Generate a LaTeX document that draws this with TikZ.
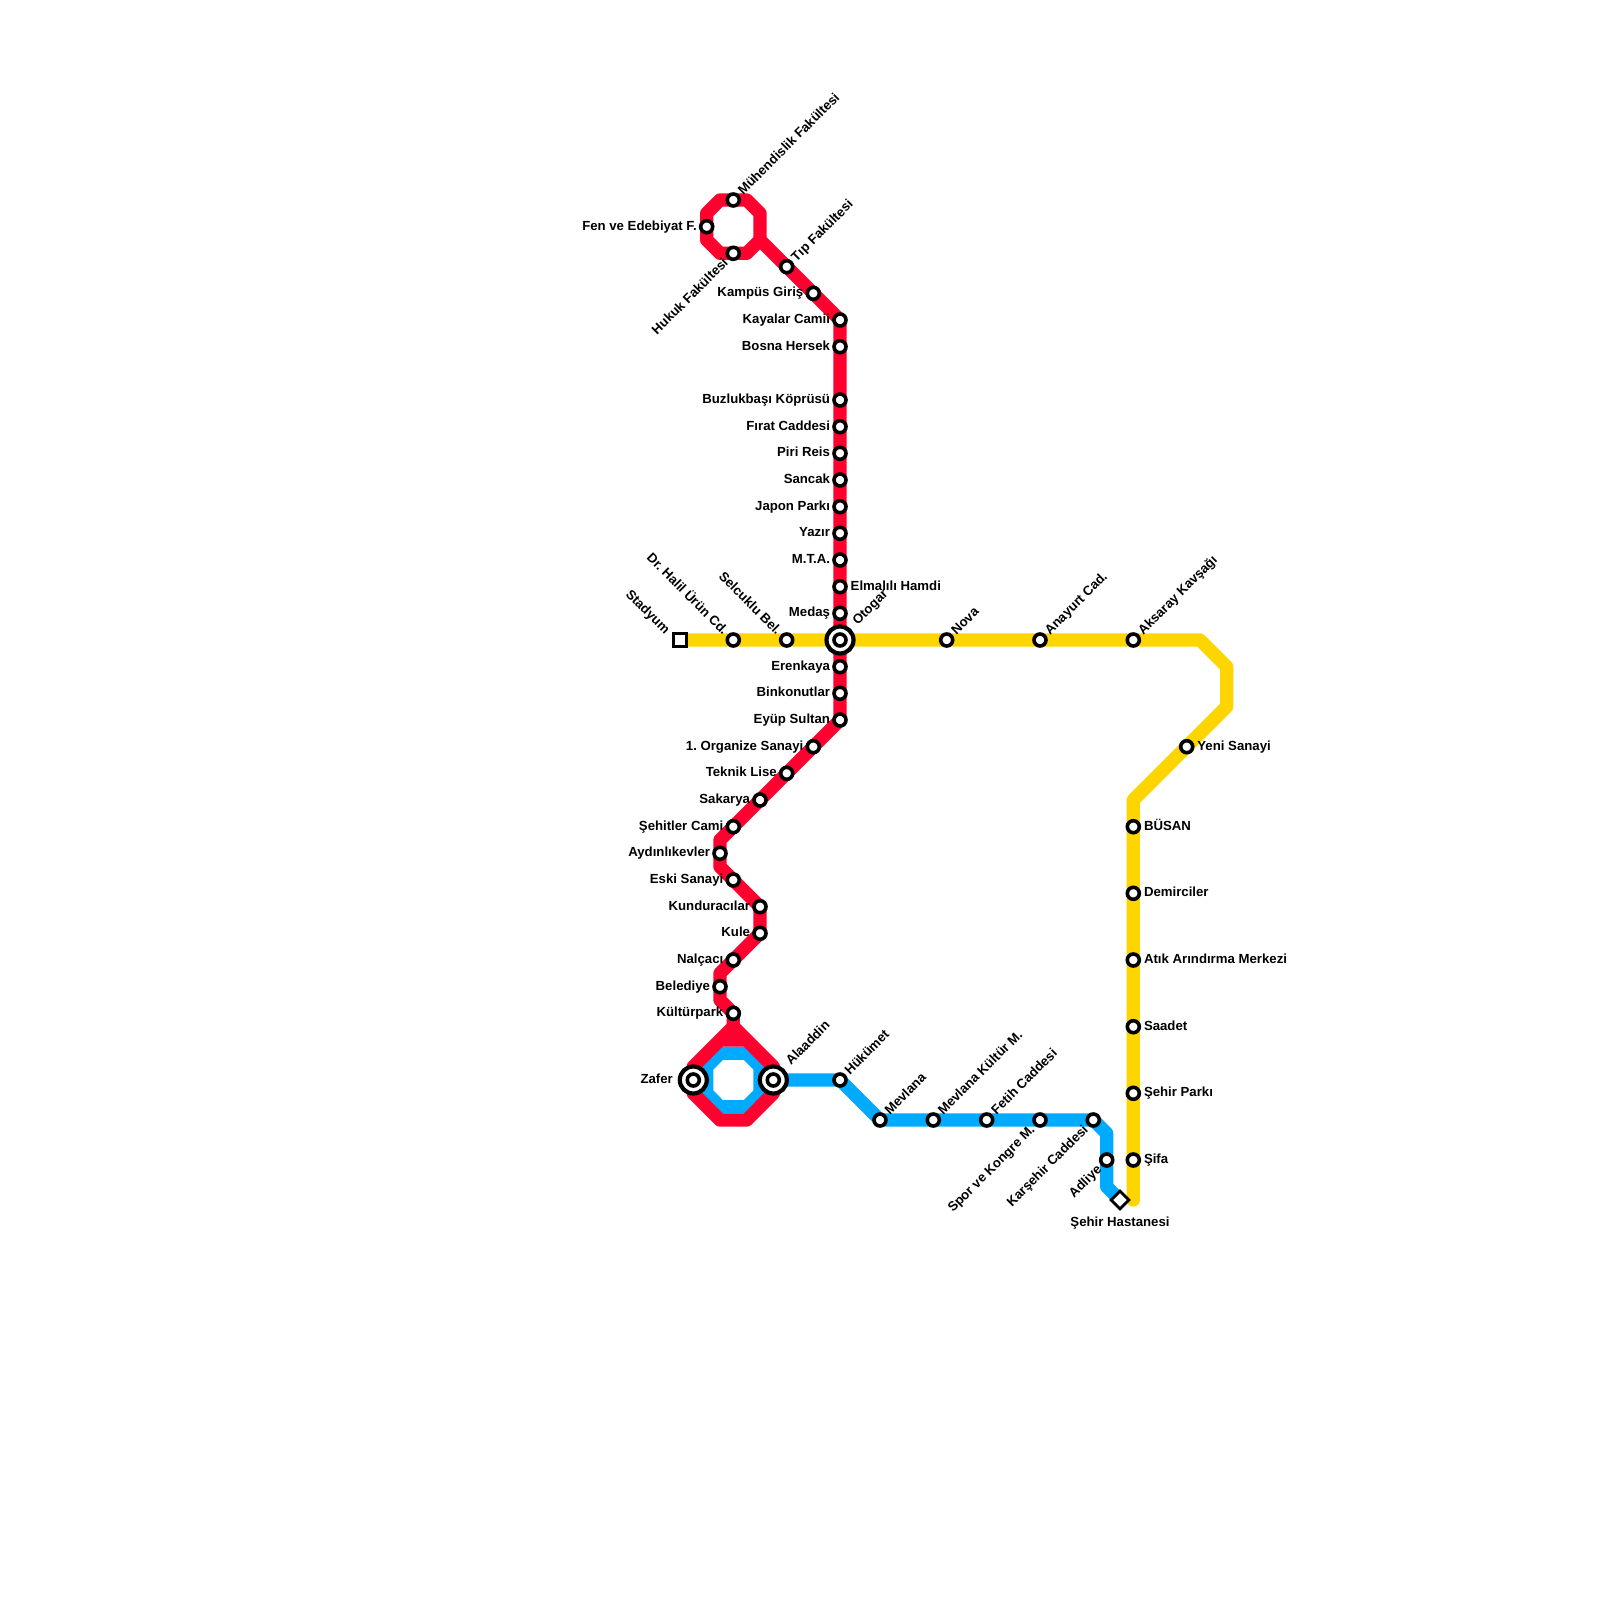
\documentclass[tikz,border=0pt]{standalone}
\usepackage{fontspec}
\setmainfont{Liberation Sans}
\usetikzlibrary{backgrounds,shapes.geometric}
\definecolor{redline}{HTML}{FF002F}
\definecolor{blueline}{HTML}{00AAFF}
\definecolor{yellowline}{HTML}{FFD500}
\tikzset{
  stn/.style={circle,draw=black,fill=white,line width=3.6pt,minimum size=12pt,inner sep=0pt,outer sep=0pt},
  hubouter/.style={circle,draw=black,fill=white,line width=4.2pt,minimum size=27pt,inner sep=0pt,outer sep=0pt},
  sqstn/.style={rectangle,draw=black,fill=white,line width=2.8pt,minimum size=13.3pt,inner sep=0pt,outer sep=0pt},
  diastn/.style={rectangle,rotate=45,draw=black,fill=white,line width=2.8pt,minimum size=12.5pt,inner sep=0pt,outer sep=0pt},
  lbl/.style={font=\fontsize{13.2}{15}\selectfont\bfseries\frenchspacing,text=black,inner sep=0pt,outer sep=0pt},
  toR/.style={lbl,anchor=base west,xshift=10.7pt,yshift=-3.3pt},
  toL/.style={lbl,anchor=base east,xshift=-10pt,yshift=-3.3pt},
  upR/.style={lbl,anchor=base west,xshift=10pt,yshift=4.5pt,rotate=45},
  dnL/.style={lbl,anchor=base east,xshift=-4.5pt,yshift=-10.5pt,rotate=45},
  upL/.style={lbl,anchor=base east,xshift=-10.5pt,yshift=4.5pt,rotate=-45},
  metro/.style={line width=13.33pt,line join=round,line cap=round},
}
\newcommand{\stat}[5]{%
  \node[stn] (#1) at (#2,#3) {};
  \node[#4] (#1-l) at (#2,#3) {#5};}
\begin{document}
\begin{tikzpicture}[x=1pt,y=-1pt]
\useasboundingbox (0,0) rectangle (1600,1600);
% red line stations
\stat{muh}{733.3}{200}{upR}{Mühendislik Fakültesi}
\stat{fen}{706.7}{226.7}{toL}{Fen ve Edebiyat F.}
\stat{huk}{733.3}{253.3}{dnL}{Hukuk Fakültesi}
\stat{tip}{786.7}{266.7}{upR}{Tıp Fakültesi}
\stat{kam}{813.3}{293.3}{toL}{Kampüs Giriş}
\stat{kay}{840}{320}{toL}{Kayalar Camii}
\stat{bos}{840}{346.7}{toL}{Bosna Hersek}
\stat{buz}{840}{400}{toL}{Buzlukbaşı Köprüsü}
\stat{fir}{840}{426.7}{toL}{Fırat Caddesi}
\stat{pir}{840}{453.3}{toL}{Piri Reis}
\stat{san}{840}{480}{toL}{Sancak}
\stat{jap}{840}{506.7}{toL}{Japon Parkı}
\stat{yaz}{840}{533.3}{toL}{Yazır}
\stat{mta}{840}{560}{toL}{M.T.A.}
\stat{elm}{840}{586.7}{toR}{Elmalılı Hamdi}
\stat{med}{840}{613.3}{toL}{Medaş}
\node[hubouter] (otoh) at (840,640) {};
\node[stn] (oto) at (840,640) {};
\node[upR,xshift=12.5pt,yshift=1.5pt] (oto-l) at (840,640) {Otogar};
\stat{ere}{840}{666.7}{toL}{Erenkaya}
\stat{bin}{840}{693.3}{toL}{Binkonutlar}
\stat{eyu}{840}{720}{toL}{Eyüp Sultan}
\stat{org}{813.3}{746.7}{toL}{1. Organize Sanayi}
\stat{tek}{786.7}{773.3}{toL}{Teknik Lise}
\stat{sak}{760}{800}{toL}{Sakarya}
\stat{seh}{733.3}{826.7}{toL}{Şehitler Cami}
\stat{ayd}{720}{853.3}{toL}{Aydınlıkevler}
\stat{esk}{733.3}{880}{toL}{Eski Sanayi}
\stat{kun}{760}{906.7}{toL}{Kunduracılar}
\stat{kul}{760}{933.3}{toL}{Kule}
\stat{nal}{733.3}{960}{toL}{Nalçacı}
\stat{bel}{720}{986.7}{toL}{Belediye}
\stat{kuz}{733.3}{1013.3}{toL}{Kültürpark}
\node[hubouter] (zafh) at (693.3,1080) {};
\node[stn] (zaf) at (693.3,1080) {};
\node[toL,xshift=-10.5pt] (zaf-l) at (693.3,1080) {Zafer};
\node[hubouter] (alah) at (773.3,1080) {};
\node[stn] (ala) at (773.3,1080) {};
\node[upR,xshift=12.5pt,yshift=1.5pt] (ala-l) at (773.3,1080) {Alaaddin};
% blue line stations
\stat{huz}{840}{1080}{upR}{Hükümet}
\stat{mev}{880}{1120}{upR}{Mevlana}
\stat{mkm}{933.3}{1120}{upR}{Mevlana Kültür M.}
\stat{fet}{986.7}{1120}{upR}{Fetih Caddesi}
\stat{spo}{1040}{1120}{dnL}{Spor ve Kongre M.}
\stat{kar}{1093.3}{1120}{dnL}{Karşehir Caddesi}
\stat{adl}{1106.7}{1160}{dnL}{Adliye}
\node[diastn] (has) at (1120,1200) {};
\node[lbl,anchor=base] (has-l) at (1120,1226) {Şehir Hastanesi};
% yellow line stations
\node[sqstn] (sta) at (680,640) {};
\node[upL,xshift=-4pt,yshift=-3pt] (sta-l) at (680,640) {Stadyum};
\stat{dhu}{733.3}{640}{upL}{Dr. Halil Ürün Cd.}
\stat{sel}{786.7}{640}{upL}{Selcuklu Bel.}
\stat{nov}{946.7}{640}{upR}{Nova}
\stat{any}{1040}{640}{upR}{Anayurt Cad.}
\stat{aks}{1133.3}{640}{upR}{Aksaray Kavşağı}
\stat{yen}{1186.7}{746.7}{toR}{Yeni Sanayi}
\stat{bus}{1133.3}{826.7}{toR}{BÜSAN}
\stat{dem}{1133.3}{893.3}{toR}{Demirciler}
\stat{ati}{1133.3}{960}{toR}{Atık Arındırma Merkezi}
\stat{saa}{1133.3}{1026.7}{toR}{Saadet}
\stat{spa}{1133.3}{1093.3}{toR}{Şehir Parkı}
\stat{sif}{1133.3}{1160}{toR}{Şifa}
% bends
\coordinate (y1) at (1200,640);
\coordinate (y2) at (1226.7,666.7);
\coordinate (y3) at (1226.7,706.7);
\coordinate (y4) at (1133.3,800);
\coordinate (y5) at (1133.3,1200);
\coordinate (b1) at (1106.7,1133.3);
\coordinate (b2) at (1106.7,1186.7);
\coordinate (r1) at (760,240);
\begin{scope}[on background layer]
\draw[metro,blueline] (720,1053.3) -- (746.7,1053.3) -- (760,1066.7) -- (760,1093.3) -- (746.7,1106.7) -- (720,1106.7) -- (706.7,1093.3) -- (706.7,1066.7) -- cycle;
\draw[metro,blueline] (ala.center) -- (huz.center) -- (mev.center) -- (kar.center) -- (b1) -- (b2) -- (has.center);
\draw[metro,redline] (720,200) -- (746.7,200) -- (760,213.3) -- (r1) -- (746.7,253.3) -- (720,253.3) -- (706.7,240) -- (706.7,213.3) -- cycle;
\draw[metro,redline] (r1) -- (kay.center) -- (eyu.center) -- (720,840) -- (720,866.7) -- (kun.center) -- (kul.center) -- (720,973.3) -- (720,1000) -- (kuz.center) -- (733.3,1026.7);
\draw[metro,redline] (733.3,1026.7) -- (773.3,1066.7) -- (773.3,1093.3) -- (746.7,1120) -- (720,1120) -- (693.3,1093.3) -- (693.3,1066.7) -- cycle;
\fill[redline] (733.3,1030) -- (744,1046.7) -- (722.7,1046.7) -- cycle;
\draw[metro,yellowline] (sta.center) -- (y1) -- (y2) -- (y3) -- (y4) -- (y5);
\end{scope}
\end{tikzpicture}
\end{document}
